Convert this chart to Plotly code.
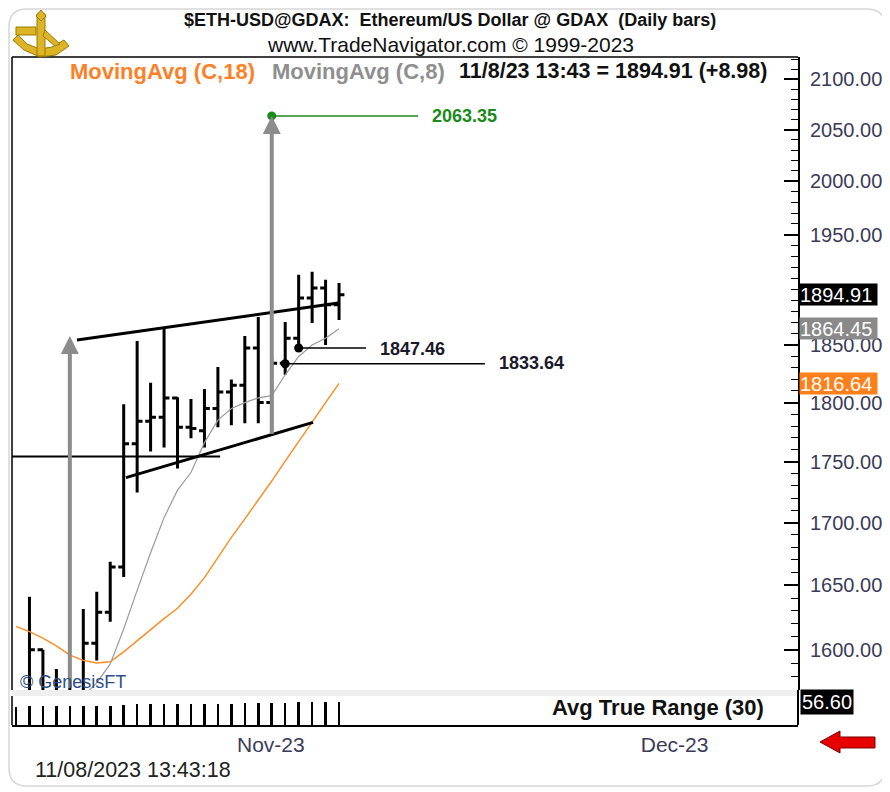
import math
import pandas as pd
import plotly.graph_objects as go

# ---------------- data ----------------
dates = [d.strftime("%Y-%m-%d") for d in pd.date_range("2023-10-15", "2023-11-08")]

opens = [1558, 1557, 1600, 1566, 1565, 1568, 1605, 1629, 1664.5, 1765, 1784, 1787.5, 1804,
         1779, 1776, 1795, 1809, 1815, 1847.5, 1800, 1834, 1856, 1892, 1901, 1885.93]
highs = [1566, 1641, 1600, 1585.5, 1575, 1631.5, 1645, 1668.5, 1798.5, 1853.5, 1817, 1865, 1804.6,
         1803, 1811.6, 1830.7, 1820, 1858, 1875, 1840, 1870.5, 1913, 1915.7, 1908.4, 1905.6]
lows = [1550, 1553, 1553, 1555, 1555, 1563, 1592, 1621.5, 1656.5, 1724.5, 1758.5, 1762, 1744.3,
        1769.6, 1762, 1779, 1780.6, 1782.3, 1782.3, 1776, 1824, 1847.46, 1869.6, 1850, 1872.3]
closes = [1557, 1600, 1566, 1565, 1568, 1605, 1629, 1664.5, 1765, 1784, 1787.5, 1804, 1779,
          1778, 1795, 1809, 1815, 1847.5, 1800, 1834, 1856, 1892, 1901, 1885.93, 1894.91]

ma18 = [1618, 1614, 1609, 1603, 1596, 1592, 1590, 1591, 1598.5, 1607, 1615.5, 1624, 1632,
        1643, 1656, 1672, 1688, 1703, 1718, 1734, 1750.5, 1767, 1784, 1800, 1816.64]
ma8_dates = dates[5:]
ma8 = [1565, 1575, 1589.3, 1616, 1646, 1675.7, 1704, 1726.5, 1741, 1766, 1785, 1795, 1800,
       1804, 1806, 1824, 1840, 1850, 1856, 1864.45]

atr = [45.5, 46, 46, 46, 46, 46, 46.5, 47, 50, 51, 52, 52, 53, 53, 53, 53, 53, 54, 54,
       55, 55.5, 56, 56.5, 56.5, 56.6]
atr_last = 56.60

# drawn studies
upper_tl_dates = ["2023-10-19 12:45", "2023-11-08 01:40"]
upper_tl_vals = [1854.5, 1887.6]
lower_tl_dates = ["2023-10-23 04:00", "2023-11-06 01:40"]
lower_tl_vals = [1736.8, 1783.1]
hline_dates = ["2023-10-14 16:52", "2023-10-30 04:00"]
hline_vals = [1754.4, 1754.4]
arrow_dates = ["2023-10-19", "2023-11-03"]
arrow_base = [1570.0, 1772.0]
arrow_tip = [1858.0, 2063.35]
target_value = 2063.35
target_dates = ["2023-11-03", "2023-11-13 21:00"]
lvl1_value = 1847.46
lvl1_dates = ["2023-11-05", "2023-11-10"]
lvl2_value = 1833.64
lvl2_dates = ["2023-11-04", "2023-11-18 20:00"]

price_ticks = list(range(1600, 2101, 50))
hidden_tick = 1900            # covered by the last-price box in the original
minor_ticks = list(range(1570, 2121, 10))
month_ticks = ["2023-11-01", "2023-12-01"]
month_labels = ["Nov-23", "Dec-23"]

last_close = closes[-1]
change = closes[-1] - closes[-2]

# ---------------- layout helpers (reference pixel -> paper) ----------------
OFF = 8                      # page body margin of the html page
W, H = 890 - OFF, 792 - OFF
L, R, T, B = 12, 798, 57, 725  # plot area in screen pixels
def PX(x):
    return (x - L) / (R - L)
def PY(y):
    return (B - y) / (B - T)

FONT = "Liberation Sans, Arial, sans-serif"
LABEL_C = "#3b3b58"

fig = go.Figure()

fig.add_trace(go.Ohlc(x=dates, open=opens, high=highs, low=lows, close=closes,
                      increasing=dict(line=dict(color="black", width=3)),
                      decreasing=dict(line=dict(color="black", width=3)),
                      tickwidth=0.4, hoverinfo="skip", xaxis="x", yaxis="y"))

fig.add_trace(go.Scatter(x=dates, y=ma18, mode="lines", line=dict(color="#FF8A20", width=1.4),
                         hoverinfo="skip", xaxis="x", yaxis="y"))
fig.add_trace(go.Scatter(x=ma8_dates, y=ma8, mode="lines", line=dict(color="#9a9a9a", width=1.2),
                         hoverinfo="skip", xaxis="x", yaxis="y"))

for xs, ys, w in [(upper_tl_dates, upper_tl_vals, 3), (lower_tl_dates, lower_tl_vals, 3), (hline_dates, hline_vals, 2)]:
    fig.add_trace(go.Scatter(x=xs, y=ys, mode="lines", line=dict(color="black", width=w),
                             hoverinfo="skip", xaxis="x", yaxis="y"))

# level lines
fig.add_trace(go.Scatter(x=target_dates, y=[target_value] * 2, mode="lines", line=dict(color="#1a8a1a", width=1.5),
                         hoverinfo="skip", xaxis="x", yaxis="y"))
fig.add_trace(go.Scatter(x=lvl1_dates, y=[lvl1_value] * 2, mode="lines", line=dict(color="black", width=1.5),
                         hoverinfo="skip", xaxis="x", yaxis="y"))
fig.add_trace(go.Scatter(x=lvl2_dates, y=[lvl2_value] * 2, mode="lines", line=dict(color="black", width=1.5),
                         hoverinfo="skip", xaxis="x", yaxis="y"))
fig.add_trace(go.Scatter(x=[lvl1_dates[0], lvl2_dates[0]], y=[lvl1_value, lvl2_value], mode="markers",
                         marker=dict(color="black", size=9), hoverinfo="skip", xaxis="x", yaxis="y"))

# ATR pane
fig.add_trace(go.Bar(x=dates, y=atr, marker=dict(color="black", line=dict(width=0)),
                     width=0.19 * 86400000, hoverinfo="skip", xaxis="x2", yaxis="y2"))

annotations = []
# measured-move arrows
for d, b0, t0 in zip(arrow_dates, arrow_base, arrow_tip):
    annotations.append(dict(x=d, y=math.log10(t0), ax=d, ay=math.log10(b0), xref="x", yref="y",
                            axref="x", ayref="y", showarrow=True, arrowhead=2, arrowsize=0.9,
                            arrowwidth=4, arrowcolor="#8c8c8c", text=""))
fig.add_trace(go.Scatter(x=[target_dates[0]], y=[target_value], mode="markers",
                         marker=dict(color="#1a8a1a", size=9), hoverinfo="skip", xaxis="x", yaxis="y"))

def txt(x, y, s, size, color="black", bold=False, xanchor="left", **kw):
    annotations.append(dict(x=PX(x), y=PY(y), xref="paper", yref="paper", text=("<b>%s</b>" % s) if bold else s,
                            showarrow=False, xanchor=xanchor, yanchor="middle",
                            font=dict(family=FONT, size=size, color=color), **kw))

nb = "\u00a0"
txt(450, 20, "$ETH-USD@GDAX:" + nb * 2 + "Ethereum/US Dollar @ GDAX" + nb * 2 + "(Daily bars)", 18, "#111", True, "center")
txt(450, 45, "www.TradeNavigator.com © 1999-2023", 21, "#111", False, "center")
txt(68, 71, "MovingAvg (C,18)", 22, "#FF7F27", True)
txt(270, 71, "MovingAvg (C,8)", 22, "#8f8f8f", True)
txt(457, 71, "11/8/23 13:43 = %.2f (+%.2f)" % (last_close, change), 21.5, "#111", True)
txt(430, 116, "%.2f" % target_value, 18, "#1a8a1a", True)
txt(378, 349, "%.2f" % lvl1_value, 18, "#1a1a2a", True)
txt(497, 363, "%.2f" % lvl2_value, 18, "#1a1a2a", True)
txt(18, 682, "© GenesisFT", 18, "#2d4f86", False)
txt(766, 707, "Avg True Range (30)", 22, "#111", True, "right")
txt(33, 770, "11/08/2023 13:43:18", 21.5, "#222", False)

# right-axis value boxes
for val, bg in [(last_close, "black"), (ma8[-1], "#8a8a8a"), (ma18[-1], "#FF7F1A")]:
    annotations.append(dict(x=1, y=math.log10(val), xref="paper", yref="y", xanchor="left", yanchor="middle",
                            xshift=1, text="%.2f" % val, showarrow=False, bgcolor=bg, borderpad=0,
                            width=77, height=21, align="left", font=dict(family=FONT, size=20, color="white")))
annotations.append(dict(x=1, y=atr_last, xref="paper", yref="y2", xanchor="left", yanchor="middle",
                        xshift=2, text="%.2f" % atr_last, showarrow=False, bgcolor="black", borderpad=1,
                        font=dict(family=FONT, size=20, color="white")))

shapes = []
def path(points, fill, line="rgba(0,0,0,0)", lw=1):
    p = "M " + " L ".join("%f,%f" % (PX(a), PY(b)) for a, b in points) + " Z"
    shapes.append(dict(type="path", path=p, xref="paper", yref="paper", fillcolor=fill,
                       line=dict(color=line, width=lw), layer="above"))

def line(x0, y0, x1, y1, color="black", w=1.5):
    shapes.append(dict(type="line", x0=PX(x0), y0=PY(y0), x1=PX(x1), y1=PY(y1), xref="paper", yref="paper",
                       line=dict(color=color, width=w)))

def rounded(x0, y0, x1, y1, r):
    return ("M %f,%f L %f,%f Q %f,%f %f,%f L %f,%f Q %f,%f %f,%f L %f,%f Q %f,%f %f,%f L %f,%f Q %f,%f %f,%f Z" % (
        PX(x0 + r), PY(y0), PX(x1 - r), PY(y0), PX(x1), PY(y0), PX(x1), PY(y0 + r),
        PX(x1), PY(y1 - r), PX(x1), PY(y1), PX(x1 - r), PY(y1),
        PX(x0 + r), PY(y1), PX(x0), PY(y1), PX(x0), PY(y1 - r),
        PX(x0), PY(y0 + r), PX(x0), PY(y0), PX(x0 + r), PY(y0)))

# outer rounded frame
shapes.append(dict(type="path", path=rounded(9, 9, 885, 786, 18), xref="paper", yref="paper",
                   line=dict(color="#d6d6d6", width=1.5), layer="below"))

# pane boxes
line(12, 57, 798, 57, "black", 1.5)
line(12, 57, 12, 690, "black", 1.5)
shapes.append(dict(type="rect", x0=PX(12), x1=PX(798), y0=PY(696), y1=PY(690), xref="paper", yref="paper",
                   fillcolor="#efefef", line=dict(width=0), layer="below"))
line(12, 696, 12, 725, "black", 1.5)
line(798, 690, 798, 725, "black", 2)

# red arrow (bottom right)
path([(820, 742), (840, 731), (840, 737), (875, 737), (875, 748), (840, 748), (840, 753)], "#e60000", "#7a0000", 1)

# logo approximation (sextant)
gold, dgold = "#dcb425", "#9c7a00"
path([(13, 40), (24, 50), (40, 57), (56, 55), (69, 46), (64, 40), (52, 47), (40, 49), (27, 44), (18, 35)], gold, dgold, 1)
path([(37, 14), (45, 14), (45, 56), (37, 56)], gold, dgold, 1)
path([(16, 27), (36, 27), (36, 35), (16, 35)], gold, dgold, 1)
path([(36, 16), (41, 10), (46, 16), (41, 21)], gold, dgold, 1)
path([(45, 30), (60, 44), (55, 46), (43, 36)], gold, dgold, 1)

y_lo, y_hi = 1569.7, 2122.1
x_range = ["2023-10-14 16:52", "2023-12-12 02:21"]

fig.update_layout(
    width=W, height=H, margin=dict(l=L - OFF, r=W - (R - OFF), t=T - OFF, b=H - (B - OFF)),
    paper_bgcolor="white", plot_bgcolor="white", showlegend=False,
    font=dict(family=FONT, color=LABEL_C),
    xaxis=dict(domain=[0, 1], range=x_range, anchor="y", type="date", showticklabels=False, ticks="",
               showgrid=False, zeroline=False, showline=False, rangeslider=dict(visible=False)),
    yaxis=dict(domain=[PY(690), 1], type="log", side="right", anchor="x",
               range=[math.log10(y_lo), math.log10(y_hi)],
               tickmode="array", tickvals=price_ticks,
               ticktext=["" if v == hidden_tick else "%.2f" % v for v in price_ticks],
               ticks="inside", ticklen=14, tickwidth=1.5, tickcolor="black",
               minor=dict(tickmode="array", tickvals=minor_ticks, ticks="inside", ticklen=7, tickcolor="black", tickwidth=1.2),
               showline=True, linecolor="black", linewidth=2, showgrid=False, zeroline=False,
               tickfont=dict(family=FONT, size=20, color=LABEL_C), ticklabelstandoff=6),
    xaxis2=dict(domain=[0, 1], range=x_range, anchor="y2", type="date", matches="x",
                tickmode="array", tickvals=month_ticks, ticktext=month_labels, ticklabelshift=26,
                ticks="", showgrid=False, zeroline=False, showline=True, linecolor="black", linewidth=1.5,
                tickfont=dict(family=FONT, size=21, color=LABEL_C)),
    yaxis2=dict(domain=[0, PY(696)], range=[0, 72], anchor="x2", visible=False, showgrid=False),
    annotations=annotations, shapes=shapes, bargap=0,
)

fig.write_html("out.html")
